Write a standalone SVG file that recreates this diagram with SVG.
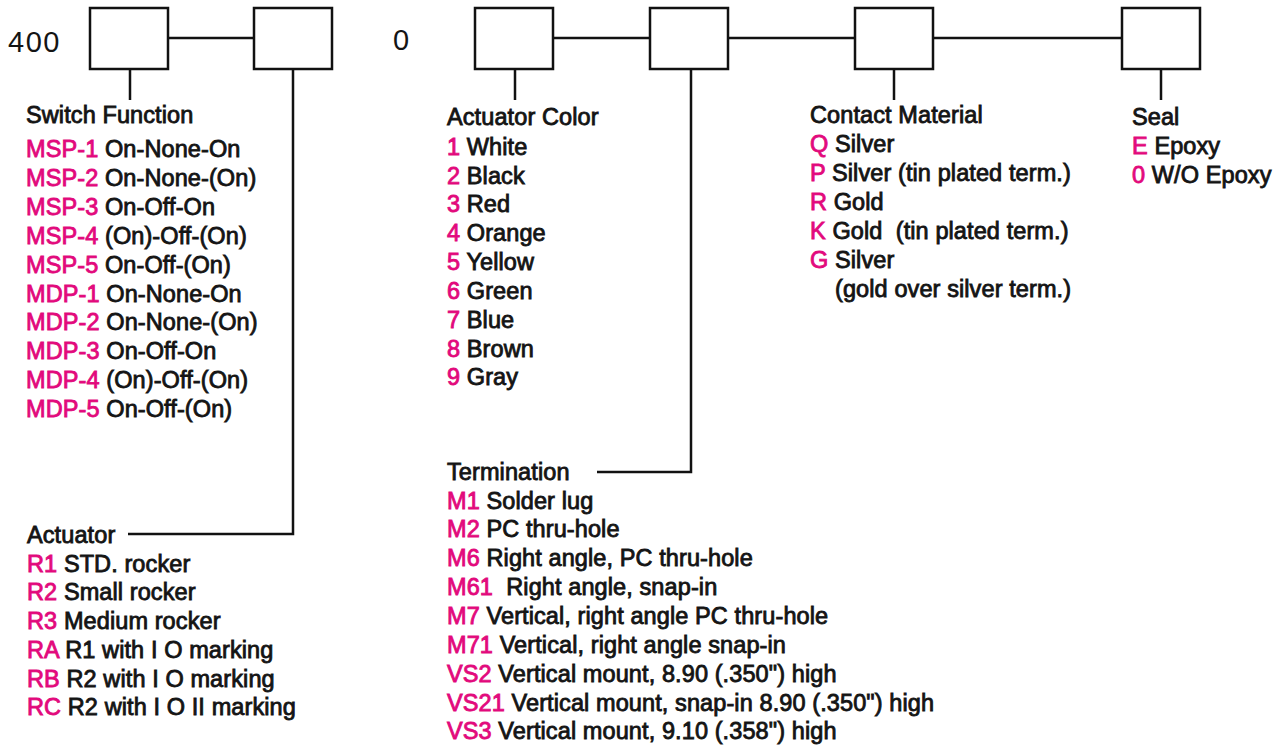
<svg xmlns="http://www.w3.org/2000/svg" width="1279" height="746" viewBox="0 0 1279 746">
<style>
.box{fill:#fff;stroke:#111;stroke-width:2.5}
.ln{fill:none;stroke:#111;stroke-width:2.5}
text{font-family:"Liberation Sans",Arial,sans-serif;font-size:23.5px;letter-spacing:0.1px;fill:#141414;stroke:#141414;stroke-width:0.85px}
.c{fill:#E2097C;stroke:#E2097C}
.big{font-size:29px;letter-spacing:1.5px;stroke-width:0}
</style>
<rect width="1279" height="746" fill="#fff"/>
<g id="connectors">
<path class="ln" d="M168 38H254M553 38H650M728 38H855M933 38H1122"/>
<path class="ln" d="M130 69V100M515 69V100M894 69V100M1161 69V100"/>
<path class="ln" d="M293 69V534H128"/>
<path class="ln" d="M691 69V472H597"/>
</g>
<g id="prefix">
<text class="big" x="8" y="52">400</text>
<text class="big" x="393" y="50">0</text>
</g>
<g id="box-switch-function"><rect class="box" x="90" y="8" width="78" height="61"/></g>
<g id="box-actuator"><rect class="box" x="254" y="8" width="78" height="61"/></g>
<g id="box-actuator-color"><rect class="box" x="475" y="8" width="78" height="61"/></g>
<g id="box-termination"><rect class="box" x="650" y="8" width="78" height="61"/></g>
<g id="box-contact-material"><rect class="box" x="855" y="8" width="78" height="61"/></g>
<g id="box-seal"><rect class="box" x="1122" y="8" width="78" height="61"/></g>
<g id="switch-function">
<text x="26" y="123">Switch Function</text>
<text x="26" y="157"><tspan class="c">MSP-1</tspan> On-None-On</text>
<text x="26" y="186"><tspan class="c">MSP-2</tspan> On-None-(On)</text>
<text x="26" y="215"><tspan class="c">MSP-3</tspan> On-Off-On</text>
<text x="26" y="244"><tspan class="c">MSP-4</tspan> (On)-Off-(On)</text>
<text x="26" y="273"><tspan class="c">MSP-5</tspan> On-Off-(On)</text>
<text x="26" y="302"><tspan class="c">MDP-1</tspan> On-None-On</text>
<text x="26" y="330"><tspan class="c">MDP-2</tspan> On-None-(On)</text>
<text x="26" y="359"><tspan class="c">MDP-3</tspan> On-Off-On</text>
<text x="26" y="388"><tspan class="c">MDP-4</tspan> (On)-Off-(On)</text>
<text x="26" y="417"><tspan class="c">MDP-5</tspan> On-Off-(On)</text>
</g>
<g id="actuator">
<text x="27" y="543">Actuator</text>
<text x="27" y="572"><tspan class="c">R1</tspan> STD. rocker</text>
<text x="27" y="600"><tspan class="c">R2</tspan> Small rocker</text>
<text x="27" y="629"><tspan class="c">R3</tspan> Medium rocker</text>
<text x="27" y="658"><tspan class="c">RA</tspan> R1 with I O marking</text>
<text x="27" y="687"><tspan class="c">RB</tspan> R2 with I O marking</text>
<text x="27" y="715"><tspan class="c">RC</tspan> R2 with I O II marking</text>
</g>
<g id="actuator-color">
<text x="447" y="125">Actuator Color</text>
<text x="447" y="155"><tspan class="c">1</tspan> White</text>
<text x="447" y="184"><tspan class="c">2</tspan> Black</text>
<text x="447" y="212"><tspan class="c">3</tspan> Red</text>
<text x="447" y="241"><tspan class="c">4</tspan> Orange</text>
<text x="447" y="270"><tspan class="c">5</tspan> Yellow</text>
<text x="447" y="299"><tspan class="c">6</tspan> Green</text>
<text x="447" y="328"><tspan class="c">7</tspan> Blue</text>
<text x="447" y="357"><tspan class="c">8</tspan> Brown</text>
<text x="447" y="385"><tspan class="c">9</tspan> Gray</text>
</g>
<g id="termination">
<text x="447" y="480">Termination</text>
<text x="447" y="509"><tspan class="c">M1</tspan> Solder lug</text>
<text x="447" y="537"><tspan class="c">M2</tspan> PC thru-hole</text>
<text x="447" y="566"><tspan class="c">M6</tspan> Right angle, PC thru-hole</text>
<text x="447" y="595"><tspan class="c">M61</tspan>&#160; Right angle, snap-in</text>
<text x="447" y="624"><tspan class="c">M7</tspan> Vertical, right angle PC thru-hole</text>
<text x="447" y="653"><tspan class="c">M71</tspan> Vertical, right angle snap-in</text>
<text x="447" y="682"><tspan class="c">VS2</tspan> Vertical mount, 8.90 (.350") high</text>
<text x="447" y="711"><tspan class="c">VS21</tspan> Vertical mount, snap-in 8.90 (.350") high</text>
<text x="447" y="739"><tspan class="c">VS3</tspan> Vertical mount, 9.10 (.358") high</text>
</g>
<g id="contact-material">
<text x="810" y="123">Contact Material</text>
<text x="810" y="152"><tspan class="c">Q</tspan> Silver</text>
<text x="810" y="181"><tspan class="c">P</tspan> Silver (tin plated term.)</text>
<text x="810" y="210"><tspan class="c">R</tspan> Gold</text>
<text x="810" y="239"><tspan class="c">K</tspan> Gold&#160; (tin plated term.)</text>
<text x="810" y="268"><tspan class="c">G</tspan> Silver</text>
<text x="835" y="297">(gold over silver term.)</text>
</g>
<g id="seal">
<text x="1132" y="125">Seal</text>
<text x="1132" y="154"><tspan class="c">E</tspan> Epoxy</text>
<text x="1132" y="183"><tspan class="c">0</tspan> W/O Epoxy</text>
</g>
</svg>
